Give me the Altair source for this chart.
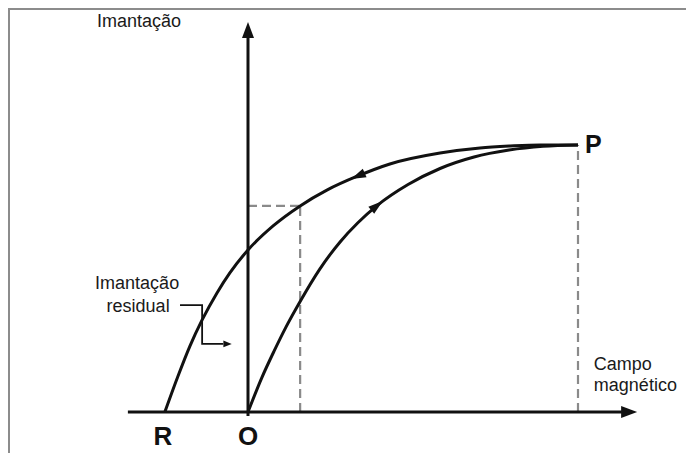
import altair as alt
import pandas as pd

# ---- data (field H in arbitrary units, magnetisation M in arbitrary units) ----
upper_h = [10.0, 8.85, 7.94, 7.03, 5.82, 4.30, 3.33, 2.39, 1.58, 0.76, 0.0, -0.55, -0.94, -1.39, -1.76, -2.12, -2.52]
upper_m = [10.0, 10.0, 9.96, 9.89, 9.70, 9.29, 8.84, 8.31, 7.72, 6.97, 6.07, 5.21, 4.46, 3.45, 2.47, 1.35, 0.0]

lower_h = [0.0, 0.42, 0.79, 1.15, 1.58, 2.18, 2.79, 3.33, 3.91, 4.85, 5.82, 6.85, 7.91, 8.94, 10.0]
lower_m = [0.0, 1.29, 2.28, 3.18, 4.14, 5.36, 6.37, 7.09, 7.73, 8.52, 9.12, 9.55, 9.81, 9.95, 10.0]

p_point = (10.0, 10.0)          # saturation P
residual_point = (1.58, 7.72)   # dashed reference on the upper branch

leader_h = [-2.06, -1.39, -1.39, -0.75]
leader_m = [4.0, 4.0, 2.55, 2.55]

label_text = ["Imantação", "Imantação", "residual", "Campo", "magnético"]
label_h = [-3.30, -3.36, -3.33, 10.48, 10.48]
label_m = [14.61, 4.80, 3.95, 1.76, 0.96]
label_align = ["center", "center", "center", "left", "left"]

point_text = ["P", "R", "O"]
point_h = [10.21, -2.58, 0.0]
point_m = [10.0, -0.94, -0.94]
point_align = ["left", "center", "center"]

W, H = 678, 445
xs = alt.Scale(domain=[-7.2727, 13.2727], nice=False, zero=False)
ys = alt.Scale(domain=[-1.5356, 15.1311], nice=False, zero=False)

def X(f):
    return alt.X(f, type="quantitative", scale=xs, axis=None)

def Y(f):
    return alt.Y(f, type="quantitative", scale=ys, axis=None)

INK = "#111111"
GREY = "#8a8a8a"
FONT = "Liberation Sans"

# frame (top and left border)
frame_top = alt.Chart(pd.DataFrame({"a": [0]})).mark_rule(color="#8c8c8c", strokeWidth=2).encode(
    x=alt.value(0), x2=alt.value(W), y=alt.value(1))
frame_left = alt.Chart(pd.DataFrame({"a": [0]})).mark_rule(color="#8c8c8c", strokeWidth=2).encode(
    x=alt.value(1), y=alt.value(0), y2=alt.value(H))

# dashed guides
dash_df = pd.DataFrame({
    "h": [p_point[0], residual_point[0], 0.0],
    "h2": [p_point[0], residual_point[0], residual_point[0]],
    "m": [0.0, 0.0, residual_point[1]],
    "m2": [p_point[1], residual_point[1], residual_point[1]],
})
dashes = alt.Chart(dash_df).mark_rule(color=GREY, strokeWidth=2.2, strokeDash=[9, 5]).encode(
    x=X("h"), x2="h2", y=Y("m"), y2="m2")

# axes
axes_df = pd.DataFrame({"h": [-3.64, 0.0], "h2": [11.33, 0.0], "m": [0.0, -0.15], "m2": [0.0, 14.1]})
axes = alt.Chart(axes_df).mark_rule(color=INK, strokeWidth=3).encode(
    x=X("h"), x2="h2", y=Y("m"), y2="m2")

arrow_path = "M0,-1L0.75,1L-0.75,1Z"
axis_heads = alt.Chart(pd.DataFrame({"h": [0.0, 11.55], "m": [14.31, 0.0], "ang": [0, 90]})).mark_point(
    shape=arrow_path, filled=True, color=INK, opacity=1, size=256, strokeWidth=0).encode(
    x=X("h"), y=Y("m"), angle=alt.Angle("ang:Q", scale=None))

# curves
up_df = pd.DataFrame({"h": upper_h, "m": upper_m, "o": range(len(upper_h))})
lo_df = pd.DataFrame({"h": lower_h, "m": lower_m, "o": range(len(lower_h))})
upper = alt.Chart(up_df).mark_line(color=INK, strokeWidth=3, interpolate="monotone").encode(
    x=X("h"), y=Y("m"), order="o:Q")
lower = alt.Chart(lo_df).mark_line(color=INK, strokeWidth=3, interpolate="monotone").encode(
    x=X("h"), y=Y("m"), order="o:Q")

curve_heads = alt.Chart(pd.DataFrame({"h": [3.33, 3.91], "m": [8.84, 7.73], "ang": [246, 51]})).mark_point(
    shape="M0,-1L0.62,1L-0.62,1Z", filled=True, color=INK, opacity=1, size=220, strokeWidth=0).encode(
    x=X("h"), y=Y("m"), angle=alt.Angle("ang:Q", scale=None))

# leader for "Imantação residual"
ld_df = pd.DataFrame({"h": leader_h, "m": leader_m, "o": range(len(leader_h))})
leader = alt.Chart(ld_df).mark_line(color=INK, strokeWidth=1.8).encode(
    x=X("h"), y=Y("m"), order="o:Q")
leader_head = alt.Chart(pd.DataFrame({"h": [-0.62], "m": [2.55], "ang": [90]})).mark_point(
    shape="M0,-1L0.8,1L-0.8,1Z", filled=True, color=INK, opacity=1, size=70, strokeWidth=0).encode(
    x=X("h"), y=Y("m"), angle=alt.Angle("ang:Q", scale=None))

# labels
lab_df = pd.DataFrame({"t": label_text, "h": label_h, "m": label_m, "al": label_align})
labels_c = alt.Chart(lab_df[lab_df.al == "center"]).mark_text(
    font=FONT, fontSize=18, color="#1a1a1a", align="center", baseline="middle").encode(
    x=X("h"), y=Y("m"), text="t:N")
labels_l = alt.Chart(lab_df[lab_df.al == "left"]).mark_text(
    font=FONT, fontSize=18, color="#1a1a1a", align="left", baseline="middle").encode(
    x=X("h"), y=Y("m"), text="t:N")

pt_df = pd.DataFrame({"t": point_text, "h": point_h, "m": point_m, "al": point_align})
pts_c = alt.Chart(pt_df[pt_df.al == "center"]).mark_text(
    font=FONT, fontSize=26, fontWeight="bold", color=INK, align="center", baseline="middle").encode(
    x=X("h"), y=Y("m"), text="t:N")
pts_l = alt.Chart(pt_df[pt_df.al == "left"]).mark_text(
    font=FONT, fontSize=25, fontWeight="bold", color=INK, align="left", baseline="middle").encode(
    x=X("h"), y=Y("m"), text="t:N")

chart = alt.layer(
    frame_top, frame_left, dashes, axes, axis_heads, upper, lower, curve_heads,
    leader, leader_head, labels_c, labels_l, pts_c, pts_l
).properties(
    width=W, height=H, padding=0, autosize=alt.AutoSizeParams(type="none"), background="white"
).configure_view(stroke=None)

chart.save("out.html", embed_options={"renderer": "svg", "actions": False})
